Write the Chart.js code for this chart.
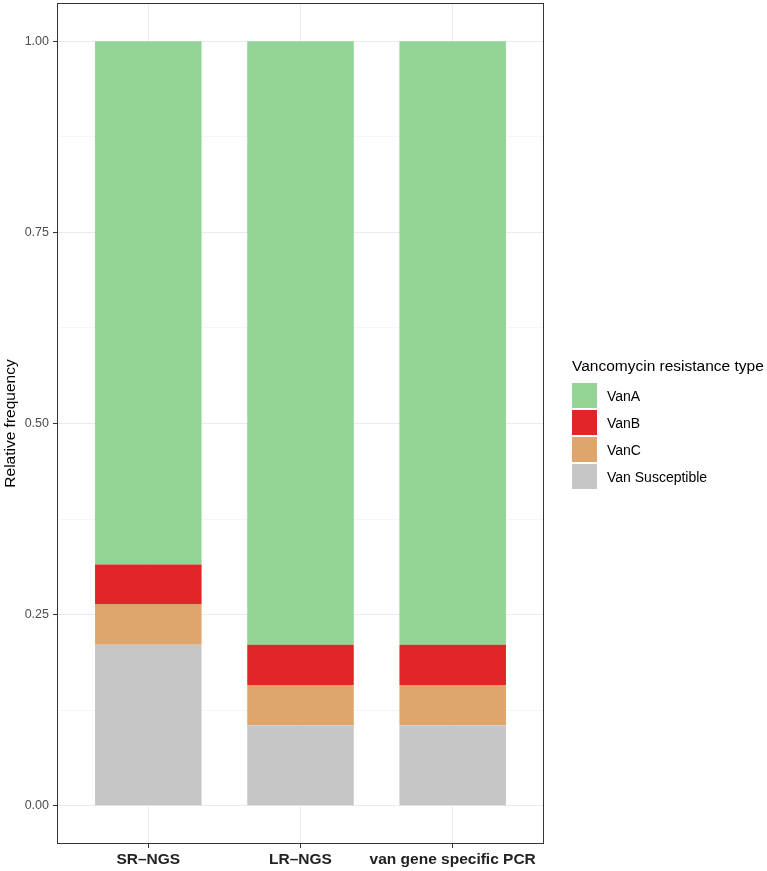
<!DOCTYPE html>
<html>
<head>
<meta charset="utf-8">
<script src="https://cdn.jsdelivr.net/npm/chart.js@4"></script>
<style>
    body { margin: 0; background: #fff; font-family: "Liberation Sans", Arial, sans-serif; }
    #wrap { position: relative; width: 767px; height: 871px; }
    #legend { position: absolute; left: 572px; top: 356px; color: #000; }
    #legend .title { font-size: 15.5px; height: 20px; line-height: 20px; margin-bottom: 6px; white-space: nowrap; }
    #legend .item { display: flex; align-items: center; height: 27px; font-size: 14px; }
    #legend .key { width: 25px; height: 25px; margin-right: 10px; }
</style>
</head>
<body>
<div id="wrap">
    <canvas id="chart" width="767" height="871"></canvas>
    <div id="legend"></div>
</div>
<script>
// ================================
// Data
// ================================
const categories = ['SR\u2013NGS', 'LR\u2013NGS', 'van gene specific PCR'];
const categoryPos = [1, 2, 3];

// stacked bottom -> top
const vanSusceptible = [0.2105, 0.1053, 0.1053];
const vanC = [0.0526, 0.0526, 0.0526];
const vanB = [0.0526, 0.0526, 0.0526];
const vanA = [0.6842, 0.7895, 0.7895];

const yTicks = [0, 0.25, 0.5, 0.75, 1];
const yMinorTicks = [0.125, 0.375, 0.625, 0.875];

const seriesNames = ['VanA', 'VanB', 'VanC', 'Van Susceptible'];
const seriesColors = ['#93d496', '#e02628', '#dfa66b', '#c6c6c6'];

const FONT = '"Liberation Sans", Arial, sans-serif';

// helper to pair category positions with values
function toPoints(values) {
    return values.map((v, i) => ({ x: categoryPos[i], y: v }));
}

// Panel border drawn on top, like ggplot's panel.border
const panelBorder = {
    id: 'panelBorder',
    afterDraw(chart) {
        const a = chart.chartArea;
        const ctx = chart.ctx;
        ctx.save();
        ctx.strokeStyle = '#333333';
        ctx.lineWidth = 1;
        ctx.strokeRect(Math.round(a.left) + 0.5, Math.round(a.top) + 0.5,
            Math.round(a.right - a.left) - 1, Math.round(a.bottom - a.top) - 1);
        ctx.restore();
    }
};

const isMajor = (v) => yTicks.some(t => Math.abs(t - v) < 1e-9);

const ctx = document.getElementById('chart').getContext('2d');
new Chart(ctx, {
    type: 'bar',
    data: {
        datasets: [
            { label: 'Van Susceptible', data: toPoints(vanSusceptible), backgroundColor: seriesColors[3] },
            { label: 'VanC', data: toPoints(vanC), backgroundColor: seriesColors[2] },
            { label: 'VanB', data: toPoints(vanB), backgroundColor: seriesColors[1] },
            { label: 'VanA', data: toPoints(vanA), backgroundColor: seriesColors[0] }
        ]
    },
    options: {
        responsive: false,
        animation: false,
        categoryPercentage: 1,
        barPercentage: 0.7,
        borderWidth: 0,
        layout: { padding: { top: 3, right: 223, bottom: 0, left: 0 } },
        plugins: {
            legend: { display: false },
            tooltip: { enabled: false }
        },
        scales: {
            x: {
                type: 'linear',
                min: 0.4,
                max: 3.6,
                offset: false,
                stacked: true,
                afterBuildTicks: (scale) => {
                    scale.ticks = categoryPos.map(v => ({ value: v }));
                },
                afterFit: (scale) => {
                    scale.height = 27;
                    scale.paddingLeft = 0;
                    scale.paddingRight = 0;
                },
                grid: { offset: false, color: '#ebebeb', tickColor: '#333333', tickLength: 4 },
                border: { display: false },
                ticks: {
                    autoSkip: false,
                    maxRotation: 0,
                    padding: 2,
                    color: '#222222',
                    font: { family: FONT, size: 15.5, weight: 'bold' },
                    callback: (value) => categories[categoryPos.indexOf(value)]
                }
            },
            y: {
                type: 'linear',
                min: -0.05,
                max: 1.05,
                stacked: true,
                afterBuildTicks: (scale) => {
                    scale.ticks = yTicks.concat(yMinorTicks).sort((a, b) => a - b).map(v => ({ value: v }));
                },
                afterFit: (scale) => {
                    scale.width = 57;
                    scale.paddingTop = 0;
                    scale.paddingBottom = 0;
                },
                grid: {
                    color: (c) => isMajor(c.tick.value) ? '#ebebeb' : '#f5f5f5',
                    tickColor: (c) => isMajor(c.tick.value) ? '#333333' : 'rgba(0,0,0,0)',
                    tickLength: 4
                },
                border: { display: false },
                title: {
                    display: true,
                    text: 'Relative frequency',
                    color: '#000000',
                    padding: { top: 1, bottom: 0 },
                    font: { family: FONT, size: 15.5 }
                },
                ticks: {
                    autoSkip: false,
                    padding: 4,
                    color: '#4d4d4d',
                    font: { family: FONT, size: 12.5 },
                    callback: (value) => isMajor(value) ? value.toFixed(2) : ''
                }
            }
        }
    },
    plugins: [panelBorder]
});

// Legend (ggplot style, right side)
const legend = document.getElementById('legend');
legend.innerHTML = '<div class="title">Vancomycin resistance type</div>' +
    seriesNames.map((name, i) =>
        `<div class="item"><div class="key" style="background:${seriesColors[i]}"></div>${name}</div>`
    ).join('');
</script>
</body>
</html>
